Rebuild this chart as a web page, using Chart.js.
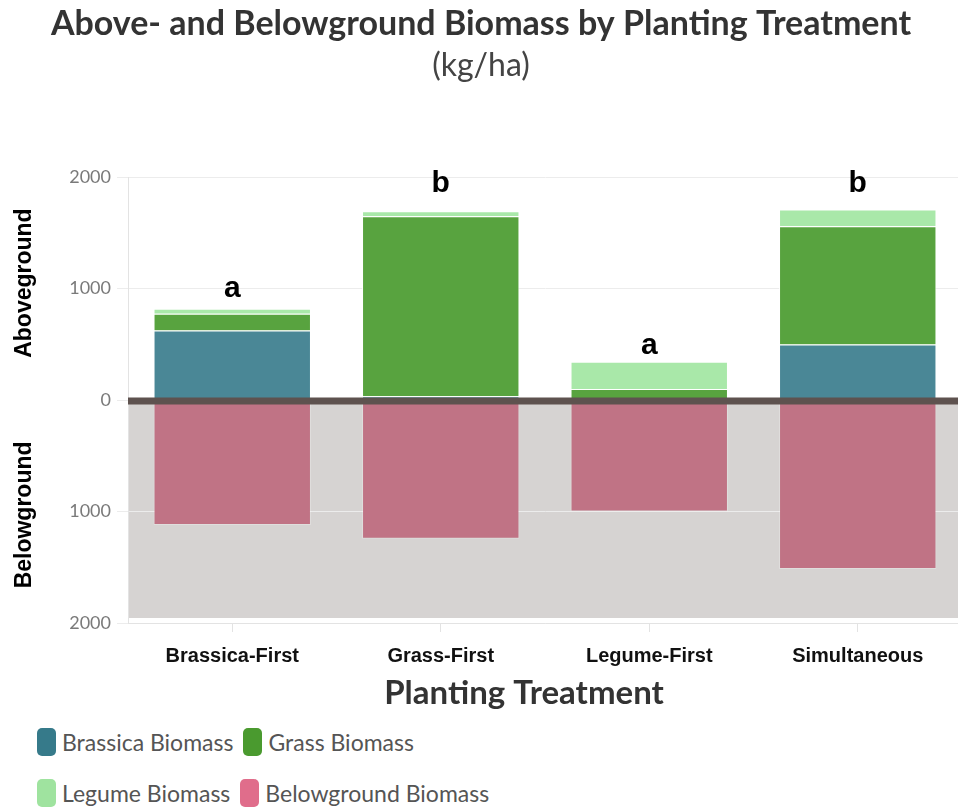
<!DOCTYPE html>
<html>
<head>
<meta charset="utf-8">
<script src="https://cdn.jsdelivr.net/npm/chart.js@4.4.1/dist/chart.umd.min.js"></script>
<style>
  html, body { margin: 0; padding: 0; background: #fff; overflow: hidden; }
  #wrap { position: relative; width: 962px; height: 720px; }
  #legend { position: absolute; left: 37px; top: 728px; width: 520px; font-family: Lato, sans-serif; font-size: 23px; color: #555; }
  .item { display: inline-flex; align-items: center; margin: 0 10px 23px 0; height: 28px; }
  .sw { width: 19px; height: 28px; border-radius: 5px; margin-right: 6px; }
</style>
</head>
<body>
<div id="wrap"><canvas id="chart"></canvas></div>
<div id="legend"></div>
<script>
const categories = ['Brassica-First', 'Grass-First', 'Legume-First', 'Simultaneous']
const brassica = [625, 35, 0, 500]
const grass = [150, 1615, 100, 1060]
const legume = [45, 45, 245, 150]
const belowground = [-1120, -1245, -1000, -1515]
const letters = ['a', 'b', 'a', 'b']
const letterAt = [921, 1865, 418, 1865]
const yTickLabels = { '-2000': '2000', '-1000': '1000', '0': '0', '1000': '1000', '2000': '2000' }
const seriesNames = ['Brassica Biomass', 'Grass Biomass', 'Legume Biomass', 'Belowground Biomass']
const barColors = ['#4a8796', '#58a33f', '#a9e8a9', '#c07385']
const legendColors = ['#367a8a', '#4a9a2f', '#9fe39f', '#e06d8b']

const decor = {
  id: 'decor',
  beforeDraw (chart) {
    const { ctx, chartArea } = chart
    const y = chart.scales.y
    ctx.save()
    ctx.fillStyle = '#d6d3d2'
    const top = y.getPixelForValue(0)
    const bottom = y.getPixelForValue(-1955)
    ctx.fillRect(chartArea.left + 1, top, chartArea.right - chartArea.left, bottom - top)
    ctx.restore()
  },
  afterDatasetsDraw (chart) {
    const { ctx, chartArea } = chart
    const x = chart.scales.x
    const y = chart.scales.y
    ctx.save()
    // thick zero line
    ctx.strokeStyle = '#5e524f'
    ctx.lineWidth = 7
    ctx.beginPath()
    ctx.moveTo(chartArea.left, y.getPixelForValue(0) + 1)
    ctx.lineTo(chartArea.right, y.getPixelForValue(0) + 1)
    ctx.stroke()
    // significance letters
    ctx.fillStyle = '#000'
    ctx.font = 'bold 30px "Liberation Sans", Arial, sans-serif'
    ctx.textAlign = 'center'
    ctx.textBaseline = 'alphabetic'
    letters.forEach((l, i) => {
      ctx.fillText(l, x.getPixelForValue(i), y.getPixelForValue(letterAt[i]))
    })
    ctx.restore()
  },
  afterDraw (chart) {
    const { ctx, chartArea } = chart
    const y = chart.scales.y
    ctx.save()
    ctx.fillStyle = '#000'
    ctx.font = 'bold 23px "Liberation Sans", Arial, sans-serif'
    ctx.textAlign = 'center'
    ctx.textBaseline = 'middle'
    const side = [['Aboveground', 1050], ['Belowground', -1030]]
    side.forEach(([t, v]) => {
      ctx.save()
      ctx.translate(25, y.getPixelForValue(v))
      ctx.rotate(-Math.PI / 2)
      ctx.fillText(t, 0, 0)
      ctx.restore()
    })
    // x axis title
    ctx.fillStyle = '#333'
    ctx.font = 'bold 33px Lato, sans-serif'
    ctx.fillText('Planting Treatment', (chartArea.left + chartArea.right) / 2 - 21, chart.scales.x.bottom + 13)
    ctx.restore()
  }
}

const canvas = document.getElementById('chart')
const chart = new Chart(canvas.getContext('2d'), {
  type: 'bar',
  data: {
    labels: categories,
    datasets: [
      { label: seriesNames[0], data: brassica, backgroundColor: barColors[0], borderColor: 'rgba(255,255,255,0.9)', borderWidth: 1 },
      { label: seriesNames[1], data: grass, backgroundColor: barColors[1], borderColor: 'rgba(255,255,255,0.9)', borderWidth: 1 },
      { label: seriesNames[2], data: legume, backgroundColor: barColors[2], borderColor: 'rgba(255,255,255,0.9)', borderWidth: 1 },
      { label: seriesNames[3], data: belowground, backgroundColor: barColors[3], borderColor: 'rgba(255,255,255,0.25)', borderWidth: 1 }
    ]
  },
  options: {
    responsive: true,
    maintainAspectRatio: false,
    animation: false,
    layout: { padding: { left: 0, right: 0, top: 0, bottom: 40 } },
    datasets: { bar: { categoryPercentage: 1, barPercentage: 0.755 } },
    scales: {
      x: {
        stacked: true,
        grid: { display: true, drawOnChartArea: false, offset: false, tickLength: 9, color: '#e3e3e3' },
        border: { display: true, color: '#e3e3e3' },
        ticks: {
          padding: 12,
          color: '#111',
          font: { family: '"Liberation Sans", Arial, sans-serif', weight: 'bold', size: 20 }
        }
      },
      y: {
        stacked: true,
        min: -2000,
        max: 2000,
        afterFit: (scale) => { scale.width = 128 },
        grid: { color: '#ececec', tickLength: 11 },
        border: { display: true, color: '#e3e3e3' },
        ticks: {
          stepSize: 1000,
          padding: 6,
          color: '#7a7a7a',
          font: { family: 'Lato, sans-serif', size: 18 },
          callback: (v) => yTickLabels[String(v)]
        }
      }
    },
    plugins: {
      legend: { display: false },
      tooltip: { enabled: false },
      title: {
        display: true,
        text: 'Above- and Belowground Biomass by Planting Treatment',
        color: '#333',
        font: { family: 'Lato, sans-serif', weight: 'bold', size: 34 },
        padding: { top: 4, bottom: 0 }
      },
      subtitle: {
        display: true,
        text: '(kg/ha)',
        color: '#444',
        font: { family: 'Lato, sans-serif', size: 32 },
        padding: { top: 2, bottom: 92 }
      }
    }
  },
  plugins: [decor]
})

// legend, two per row as in the original
const legend = document.getElementById('legend')
seriesNames.forEach((name, i) => {
  const item = document.createElement('span')
  item.className = 'item'
  item.innerHTML = '<span class="sw" style="background:' + legendColors[i] + '"></span>' + name
  legend.appendChild(item)
  if (i === 1) legend.appendChild(document.createElement('br'))
})
</script>
</body>
</html>
